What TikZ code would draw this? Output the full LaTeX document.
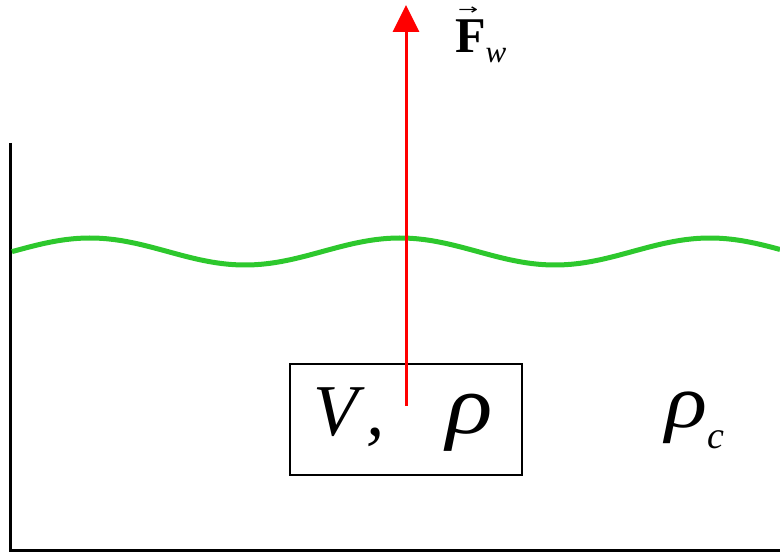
\documentclass[tikz,border=0pt]{standalone}
\usepackage{fontspec}
\setmainfont{Liberation Serif}
\newfontfamily\symfont{DejaVu Sans}
\usetikzlibrary{arrows.meta}
\definecolor{wavegreen}{RGB}{45,200,45}
\tikzset{
  wall/.style={line width=3pt, black},
  wave/.style={line width=5pt, wavegreen},
  force/.style={line width=3pt, red, -{Triangle[width=26pt,length=27pt]}},
  bodybox/.style={draw, line width=1.3pt, minimum width=232pt, minimum height=111pt, inner sep=0pt},
  lbl/.style={inner sep=0pt}
}
\begin{document}
\begin{tikzpicture}[x=1pt,y=-1pt]
\useasboundingbox (0,0) rectangle (780,553);
% container
\coordinate (wt) at (10,143);
\coordinate (wb) at (10,550);
\coordinate (br) at (780,550);
\draw[wall] (wt) -- (wb) -- (br);
% liquid surface
\draw[wave, domain=12:780, samples=120, smooth, variable=\x]
  plot (\x, {251.5 - 13.5*cos(1.16129*(\x-90))});
% body
\node[bodybox] (box) at (406,419.5) {};
\node[lbl, anchor=base west, font=\fontsize{73}{73}\selectfont\itshape] (V) at (313,436) {V\hspace{9pt},};
\node[lbl, anchor=base west, font=\fontsize{84}{84}\selectfont\itshape] (rho) at (446,434) {\scalebox{1.15}[1]{ρ}};
% force
\coordinate (fs) at (406,406);
\coordinate (fe) at (406,5);
\draw[force] (fs) -- (fe);
\node[lbl, anchor=base west, font=\fontsize{50}{50}\selectfont] (F) at (455,53)
  {\rlap{\hspace{3pt}\raisebox{38pt}{\scalebox{1}[0.6]{\fontsize{24}{24}\selectfont\symfont →}}}\textbf{F}\lower10pt\hbox{\fontsize{31}{31}\selectfont\itshape w}};
% surrounding medium
\node[lbl, anchor=base west, font=\fontsize{76}{76}\selectfont\itshape] (rhoc) at (665,428)
  {\scalebox{1.15}[1]{ρ}\lower21pt\hbox{\fontsize{38}{38}\selectfont\itshape c}};
\end{tikzpicture}
\end{document}
